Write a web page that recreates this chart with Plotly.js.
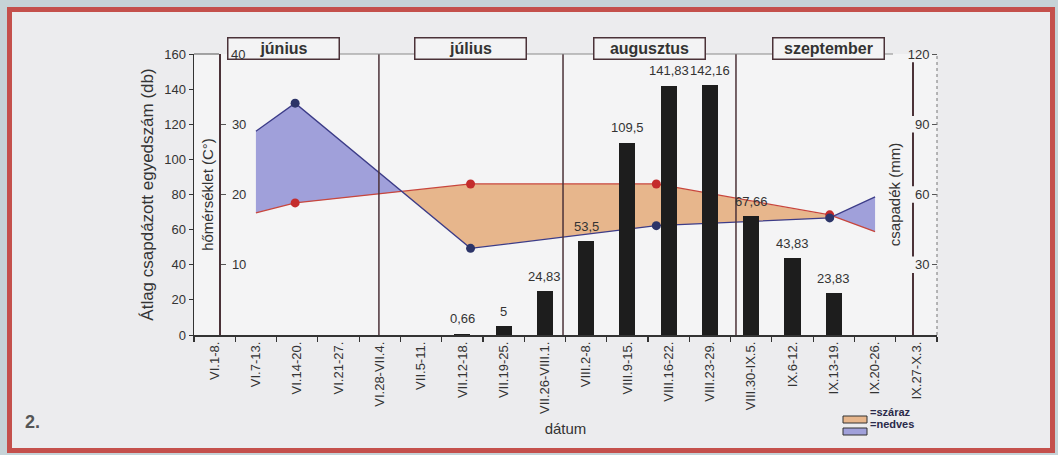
<!DOCTYPE html>
<html>
<head>
<meta charset="utf-8">
<script src="https://cdn.plot.ly/plotly-3.0.1.min.js"></script>
<style>
html,body{margin:0;padding:0;background:#ececee;}
#chart{width:1058px;height:455px;}
</style>
</head>
<body>
<div id="chart"></div>
<script>
// ---------- data ----------
const weeks = ['VI.1-8.','VI.7-13.','VI.14-20.','VI.21-27.','VI.28-VII.4.','VII.5-11.','VII.12-18.','VII.19-25.','VII.26-VIII.1.','VIII.2-8.','VIII.9-15.','VIII.16-22.','VIII.23-29.','VIII.30-IX.5.','IX.6-12.','IX.13-19.','IX.20-26.','IX.27-X.3.'];
const counts = [null,null,null,null,null,null,0.66,5,24.83,53.5,109.5,141.83,142.16,67.66,43.83,23.83,null,null];
const climWeek = [1, 1.95, 6.2, 10.7, 14.9, 16];          // position on the week axis
const temperature = [17.4, 18.8, 21.5, 21.5, 17.1, 14.7];  // °C
const precipitation = [87, 99, 37, 46.7, 50, 59];          // mm
const months = ['június','július','augusztus','szeptember'];
const monthWeek = [1.68, 6.21, 10.54, 14.88];
const monthBoundaryWeek = [3.98, 8.44, 12.63];
const precipTicks = [0, 30, 60, 90, 120];
const tempTicks = [10, 20, 30, 40];

// ---------- geometry helpers ----------
const W = 1058, H = 455, L = 194, R = 937, T = 54, B = 335;
const px = x => (x - L) / (R - L);
const py = y => (B - y) / (B - T);
const FONT = 'Liberation Sans, Arial, sans-serif';
const TXT = '#333333';
const DRY = '#e7b68c', WET = '#a0a0da';

// ---------- fill polygons between temperature and precipitation/3 ----------
const pScaled = precipitation.map(v => v / 3);
const pts = [];
for (let i = 0; i < climWeek.length; i++) {
  pts.push({x: climWeek[i], t: temperature[i], p: pScaled[i]});
  if (i < climWeek.length - 1) {
    const d0 = temperature[i] - pScaled[i], d1 = temperature[i+1] - pScaled[i+1];
    if (d0 * d1 < 0) {
      const f = d0 / (d0 - d1);
      const xc = climWeek[i] + f * (climWeek[i+1] - climWeek[i]);
      const yc = temperature[i] + f * (temperature[i+1] - temperature[i]);
      pts.push({x: xc, t: yc, p: yc, cross: true});
    }
  }
}
const runs = [];
let cur = [];
pts.forEach(pt => {
  cur.push(pt);
  if (pt.cross) { runs.push(cur); cur = [pt]; }
});
if (cur.length > 1) runs.push(cur);

const traces = [];
runs.forEach(run => {
  const ref = run.find(q => !q.cross);
  const dry = ref.t > ref.p;
  const xs = run.map(q => q.x).concat(run.map(q => q.x).reverse());
  const ys = run.map(q => q.t).concat(run.map(q => q.p).reverse());
  traces.push({x: xs, y: ys, xaxis: 'x', yaxis: 'y', type: 'scatter', mode: 'lines',
    fill: 'toself', fillcolor: dry ? DRY : WET, line: {width: 0}, hoverinfo: 'skip', showlegend: false});
});

// temperature line + markers
traces.push({x: climWeek, y: temperature, xaxis: 'x', yaxis: 'y', type: 'scatter', mode: 'lines',
  line: {color: '#c8463c', width: 1.3}, showlegend: false, name: 'hőmérséklet'});
traces.push({x: climWeek.slice(1, 5), y: temperature.slice(1, 5), xaxis: 'x', yaxis: 'y', type: 'scatter', mode: 'markers',
  marker: {color: '#c42c2c', size: 9}, showlegend: false});
// precipitation line + markers
traces.push({x: climWeek, y: precipitation, xaxis: 'x', yaxis: 'y2', type: 'scatter', mode: 'lines',
  line: {color: '#3c3c88', width: 1.3}, showlegend: false, name: 'csapadék'});
traces.push({x: climWeek.slice(1, 5), y: precipitation.slice(1, 5), xaxis: 'x', yaxis: 'y2', type: 'scatter', mode: 'markers',
  marker: {color: '#2c3468', size: 9}, showlegend: false});
// bars
traces.push({x: weeks.map((w, i) => i), y: counts, xaxis: 'x', yaxis: 'y3', type: 'bar',
  width: 0.39, marker: {color: '#1d1d1d'}, showlegend: false, name: 'egyedszám'});

// ---------- annotations ----------
const annotations = [];
counts.forEach((v, i) => {
  if (v === null) return;
  annotations.push({x: i, y: v, xref: 'x', yref: 'y3', text: String(v).replace('.', ','),
    showarrow: false, yshift: 15, font: {family: FONT, size: 13, color: TXT}});
});
months.forEach((m, k) => {
  annotations.push({x: monthWeek[k], y: py(37.5), xref: 'x', yref: 'paper', text: '<b>' + m + '</b>',
    showarrow: false, width: 108, height: 18, bordercolor: '#4b3238', borderwidth: 1.5, borderpad: 1,
    bgcolor: '#f3f3f4', font: {family: FONT, size: 16, color: TXT}});
});
// the top temperature label (40), drawn inside like the others
annotations.push({x: px(229), y: 40, xref: 'paper', yref: 'y', xanchor: 'left', text: String(tempTicks[tempTicks.length - 1]),
  showarrow: false, font: {family: FONT, size: 13, color: TXT}});
annotations.push({x: px(23), y: py(434), xref: 'paper', yref: 'paper', xanchor: 'left', text: '<b>2.</b>',
  showarrow: false, font: {family: FONT, size: 18, color: '#555'}});
annotations.push({x: px(868), y: py(419.5), xref: 'paper', yref: 'paper', xanchor: 'left', text: '<b>=száraz</b>',
  showarrow: false, font: {family: FONT, size: 11, color: '#2a2a4a'}});
annotations.push({x: px(868), y: py(431.5), xref: 'paper', yref: 'paper', xanchor: 'left', text: '<b>=nedves</b>',
  showarrow: false, font: {family: FONT, size: 11, color: '#2a2a4a'}});

// ---------- shapes ----------
const shapes = [];
shapes.push({type: 'rect', xref: 'paper', yref: 'paper', x0: px(0), x1: px(W), y0: py(H), y1: py(0),
  line: {color: '#c6d3d7', width: 14}, layer: 'below'});
shapes.push({type: 'rect', xref: 'paper', yref: 'paper', x0: px(9.5), x1: px(1052.5), y0: py(450.5), y1: py(9.5),
  line: {color: '#c4504c', width: 5}, layer: 'below'});
monthBoundaryWeek.forEach(b => {
  shapes.push({type: 'line', xref: 'x', yref: 'paper', x0: b, x1: b, y0: 0, y1: 1,
    line: {color: '#4b3238', width: 1.5}});
});
// top border pieces
shapes.push({type: 'line', xref: 'paper', yref: 'paper', x0: px(194), x1: px(219), y0: 1, y1: 1, line: {color: '#555', width: 1}});
shapes.push({type: 'line', xref: 'paper', yref: 'paper', x0: px(250), x1: px(893), y0: 1, y1: 1, line: {color: '#8a8a8a', width: 1}});
// right dotted border
shapes.push({type: 'line', xref: 'paper', yref: 'paper', x0: 1, x1: 1, y0: 0, y1: 1, line: {color: '#777', width: 1, dash: 'dot'}});
// broken vertical line through the precipitation labels
for (let k = 0; k < precipTicks.length - 1; k++) {
  const lo = k === 0 ? precipTicks[k] : precipTicks[k] + 3.5;
  const hi = precipTicks[k + 1] - 3.5;
  shapes.push({type: 'line', xref: 'paper', yref: 'y2', x0: px(913), x1: px(913), y0: lo, y1: hi,
    line: {color: '#4b3238', width: 2}});
}
// legend swatches
shapes.push({type: 'rect', xref: 'paper', yref: 'paper', x0: px(843), x1: px(867), y0: py(423), y1: py(416),
  fillcolor: DRY, line: {color: '#333', width: 1}});
shapes.push({type: 'rect', xref: 'paper', yref: 'paper', x0: px(843), x1: px(867), y0: py(435), y1: py(428),
  fillcolor: WET, line: {color: '#333', width: 1}});

// ---------- layout ----------
const layout = {
  width: W, height: H,
  margin: {l: L, r: W - R, t: T, b: H - B, pad: 0},
  paper_bgcolor: '#ececee', plot_bgcolor: '#f4f4f5',
  font: {family: FONT, color: TXT},
  showlegend: false,
  xaxis: {
    range: [-0.5, 17.5], tickvals: weeks.map((w, i) => i), ticktext: weeks, tickangle: -90,
    ticks: '', showgrid: false, zeroline: false, showline: true, linecolor: '#333', linewidth: 1.5,
    tickfont: {family: FONT, size: 13, color: TXT},
    minor: {tick0: 0.5, dtick: 1, ticks: 'outside', ticklen: 5, tickcolor: '#333', tickwidth: 1.2, showgrid: false},
    title: {text: 'dátum', font: {family: FONT, size: 15, color: TXT}, standoff: 10}
  },
  yaxis: {
    range: [0, 40], tickvals: tempTicks.slice(0, -1), anchor: 'free', position: px(219), side: 'left',
    ticklabelposition: 'inside', ticklabeloverflow: 'allow', ticklabelstandoff: 6, ticks: 'inside', ticklen: 5, tickcolor: '#555',
    showgrid: false, zeroline: false, showline: true, linecolor: '#4b3238', linewidth: 1.5,
    tickfont: {family: FONT, size: 13, color: TXT},
    title: {text: 'hőmérséklet (C°)', font: {family: FONT, size: 15, color: TXT}, standoff: 13}
  },
  yaxis2: {
    range: [0, 120], tickvals: precipTicks.slice(1), overlaying: 'y', anchor: 'free', position: 1, side: 'left',
    ticks: 'outside', ticklen: 5, tickcolor: '#555', ticklabeloverflow: 'allow',
    showgrid: false, zeroline: false, showline: false,
    tickfont: {family: FONT, size: 13, color: TXT},
    title: {text: 'csapadék (mm)', font: {family: FONT, size: 15, color: TXT}, standoff: 2}
  },
  yaxis3: {
    range: [0, 160], dtick: 20, overlaying: 'y', anchor: 'x', side: 'left',
    ticks: 'outside', ticklen: 4, tickcolor: '#333',
    showgrid: false, zeroline: false, showline: true, linecolor: '#333', linewidth: 1.5,
    tickfont: {family: FONT, size: 13, color: TXT},
    title: {text: 'Átlag csapdázott egyedszám (db)', font: {family: FONT, size: 17, color: TXT}, standoff: 6}
  },
  annotations: annotations,
  shapes: shapes,
  bargap: 0
};

Plotly.newPlot('chart', traces, layout, {displayModeBar: false, staticPlot: true});
</script>
</body>
</html>
